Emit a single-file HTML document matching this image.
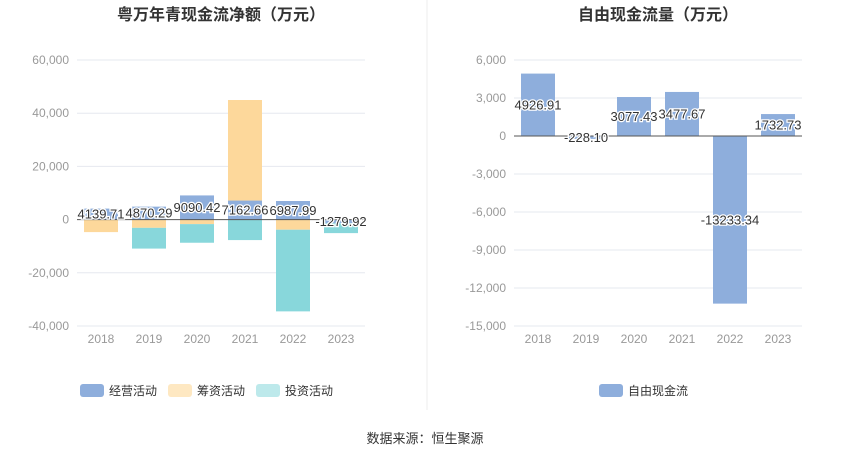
<!DOCTYPE html>
<html><head><meta charset="utf-8"><style>
body{margin:0;background:#fff;width:850px;height:459px;overflow:hidden;font-family:"Liberation Sans","Noto Sans CJK SC",sans-serif}
svg{position:absolute;left:0;top:0}
</style></head><body>
<svg id="c" width="850" height="459"></svg>
<script>
const years=['2018','2019','2020','2021','2022','2023'];
const operating=[4139.71,4870.29,9090.42,7162.66,6987.99,-1279.92];
const financing=[-4700,-3100,-1700,37800,-3800,0];
const investing=[0,-7800,-7000,-7700,-30700,-3800];
const leftTicks=[60000,40000,20000,0,-20000,-40000];
const fcf=[4926.91,-228.10,3077.43,3477.67,-13233.34,1732.73];
const rightTicks=[6000,3000,0,-3000,-6000,-9000,-12000,-15000];
const NS='http://www.w3.org/2000/svg';
const svg=document.getElementById('c');
function mk(t,a,p){const e=document.createElementNS(NS,t);for(const k in a)e.setAttribute(k,a[k]);(p||svg).appendChild(e);return e;}
function fmt(v){return v.toLocaleString('en-US');}
function chart(o){
  const g=mk('g',{});
  
  
  const y=v=>o.y0+(v-o.max)*(o.y1-o.y0)/(o.min-o.max);
  const step=(o.x1-o.x0)/years.length;
  const x=i=>o.x0+step*(i+0.5);
  const t=mk('text',{x:(o.x0+o.x1)/2,y:20,'text-anchor':'middle','font-size':16,'font-weight':'bold',fill:'#333'},g);
  t.textContent=o.title;
  
  
  o.ticks.forEach(v=>{
    if(v!==0){const l=mk('line',{x1:o.x0,x2:o.x1,y1:y(v),y2:y(v),stroke:'#e6e8ef'},g);
    }
    const tx=mk('text',{x:o.x0-8,y:y(v)+4,'text-anchor':'end','font-size':12,fill:'#999'},g);
    tx.textContent=fmt(v);
    
    
  });
  years.forEach((yr,i)=>{
    const tx=mk('text',{x:x(i),y:o.y1+17,'text-anchor':'middle','font-size':12,fill:'#999'},g);
    tx.textContent=yr;
    
    
  });
  const bw=34;
  years.forEach((yr,i)=>{
    let pos=0,neg=0;
    o.series.forEach(s=>{
      const v=s.data[i];if(!v)return;
      let a,b;
      if(v>=0){a=pos;b=pos+v;pos=b;}else{a=neg;b=neg+v;neg=b;}
      const r=mk('rect',{x:x(i)-bw/2,y:Math.min(y(a),y(b)),width:bw,height:Math.abs(y(a)-y(b)),fill:s.color},g);
      
      
    });
  });
  const ax=mk('line',{x1:o.x0,x2:o.x1,y1:y(0),y2:y(0),stroke:'#555'},g);
  
  years.forEach((yr,i)=>{
    const v=o.series[0].data[i];
    const tx=mk('text',{x:x(i),y:(y(0)+y(v))/2+4.5,'text-anchor':'middle','font-size':13,fill:'#333',stroke:'#fff','stroke-width':2.5,'paint-order':'stroke'},g);
    tx.textContent=v.toFixed(2);
    
    
  });
  o.legend.forEach(L=>{
    const r=mk('rect',{x:L.x,y:384,width:24,height:13,rx:3,fill:L.color},g);
    
    const tx=mk('text',{x:L.x+29,y:395,'font-size':12,fill:'#333'},g);
    tx.textContent=L.label;
    
  });
}
chart({name:'net-cash-flow-chart',title:'粤万年青现金流净额（万元）',x0:77,x1:365,y0:60,y1:326,max:60000,min:-40000,ticks:leftTicks,
 series:[{key:'operating',data:operating,color:'#8eaedc'},{key:'financing',data:financing,color:'#fdd89b'},{key:'investing',data:investing,color:'#88d7db'}],
 legend:[{x:80,color:'#8eaedc',label:'经营活动'},{x:168,color:'#fee8c2',label:'筹资活动'},{x:256,color:'#bde9eb',label:'投资活动'}]});
chart({name:'free-cash-flow-chart',title:'自由现金流量（万元）',x0:514,x1:802,y0:60,y1:326,max:6000,min:-15000,ticks:rightTicks,
 series:[{key:'fcf',data:fcf,color:'#8eaedc'}],
 legend:[{x:599,color:'#8eaedc',label:'自由现金流'}]});
const d=mk('line',{x1:427,x2:427,y1:0,y2:410,stroke:'#eee'});

const s=mk('text',{x:425,y:443,'text-anchor':'middle','font-size':13,fill:'#333'});
s.textContent='数据来源：恒生聚源';

</script>
</body></html>
